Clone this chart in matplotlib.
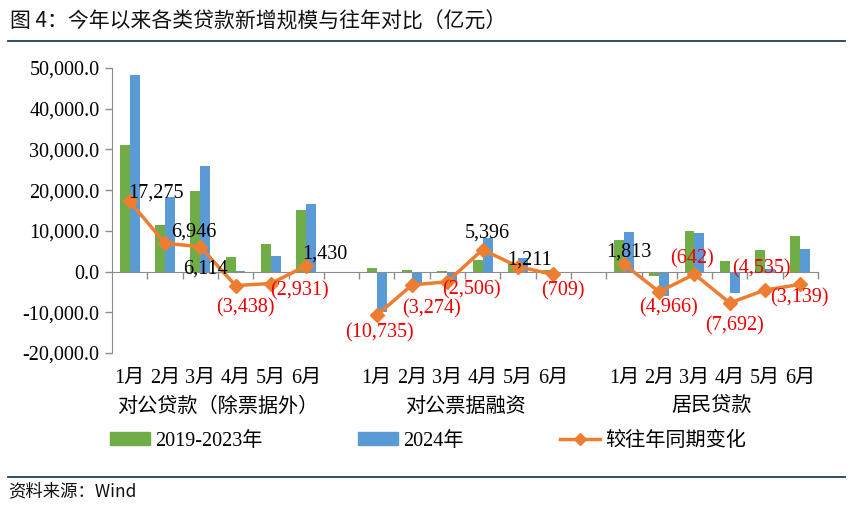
import matplotlib
matplotlib.use("Agg")
import matplotlib.pyplot as plt
from matplotlib import transforms
from matplotlib.patches import Patch
from matplotlib.lines import Line2D

plt.rcParams['font.family'] = ['Liberation Serif', 'Noto Sans CJK SC']

months = ['1月', '2月', '3月', '4月', '5月', '6月']
groups = ['对公贷款（除票据外）', '对公票据融资', '居民贷款']

# 2019-2023年 (avg), 2024年, and change vs. previous years, by group then month
avg_1923 = [31000, 11354, 19750, 3500, 6650, 15150,
            900, 400, 50, 2850, 2100, 500,
            7870, -1100, 10000, 2500, 5200, 8700]
y2024 = [48275, 18300, 25864, 62, 3719, 16580,
         -9835, -2874, -2456, 8246, 3311, -209,
         9683, -6066, 9358, -5192, 665, 5561]
change = [17275, 6946, 6114, -3438, -2931, 1430,
          -10735, -3274, -2506, 5396, 1211, -709,
          1813, -4966, -642, -7692, -4535, -3139]

# label offsets from the marker, in pixels
label_dx = [26, 29, 5, 10, 29, 19,
            3, 19, 24, 5, 12, 10,
            5, 9, -2, 5, -4, -1]
label_dy = [8, 11, -22, -22, -7, 12,
            -18, -24, -8, 17, 7, -16,
            12, -16, 15, -23, 21, -14]

GREEN = '#70AD47'
BLUE = '#5B9BD5'
ORANGE = '#ED7D31'
RED = '#F00000'
GREY = '#8C8C8C'
NAVY = '#1F3F5F'
FS = 14.5

W, H = 855, 505
fig = plt.figure(figsize=(W / 100, H / 100), dpi=100)
ax = fig.add_axes([112 / W, 1 - 353 / H, (818 - 112) / W, (353 - 68) / H])

pos = [g * 7 + m for g in range(3) for m in range(6)]
bw = 0.28
ax.bar([p - bw / 2 for p in pos], avg_1923, width=bw, color=GREEN, zorder=2)
ax.bar([p + bw / 2 for p in pos], y2024, width=bw, color=BLUE, zorder=2)

for g in range(3):
    xs = pos[g * 6:(g + 1) * 6]
    ys = change[g * 6:(g + 1) * 6]
    ax.plot(xs, ys, color=ORANGE, lw=2.5, marker='D', ms=7, zorder=3)

for p, v, dx, dy in zip(pos, change, label_dx, label_dy):
    txt = f'{v:,}' if v >= 0 else f'({-v:,})'
    ax.annotate(txt, (p, v), xytext=(dx, dy), textcoords='offset pixels',
                ha='center', va='center', fontsize=FS,
                color='black' if v >= 0 else RED, zorder=4)

ax.set_xlim(-0.5, 19.5)
ax.set_ylim(-20000, 50000)
yt = list(range(-20000, 50001, 10000))
ax.set_yticks(yt)
ax.set_yticklabels([f'{t:,.1f}' for t in yt], fontsize=FS)
ax.set_xticks([i + 0.5 for i in range(20)])
ax.set_xticklabels([])

for s in ['top', 'right']:
    ax.spines[s].set_visible(False)
ax.spines['bottom'].set_position(('data', 0))
ax.spines['bottom'].set_color(GREY)
ax.spines['left'].set_color(GREY)
ax.tick_params(axis='both', direction='out', length=5, color=GREY, width=1)
ax.tick_params(axis='y', pad=4)

trans = transforms.blended_transform_factory(ax.transData, fig.transFigure)
for p, m in zip(pos, months * 3):
    fig.text(p, 1 - 378 / H, m, transform=trans, ha='center', va='center',
             fontsize=FS)
for g, name in enumerate(groups):
    fig.text(g * 7 + 2.5, 1 - 407 / H, name, transform=trans, ha='center',
             va='center', fontsize=FS)

# legend, three separate entries
leg_y = 1 - 441 / H
entries = [
    (110, Patch(color=GREEN), '2019-2023年'),
    (358, Patch(color=BLUE), '2024年'),
    (560, Line2D([], [], color=ORANGE, lw=2.5, marker='D', ms=6), '较往年同期变化'),
]
for x0, h, lab in entries:
    fig.legend([h], [lab], loc='center left', bbox_to_anchor=(x0 / W, leg_y),
               frameon=False, fontsize=FS, borderpad=0, borderaxespad=0,
               handlelength=2.0, handleheight=0.65, handletextpad=0.25)

# title, rules and source
fig.text(10 / W, 1 - 22 / H, '图 4：今年以来各类贷款新增规模与往年对比（亿元）',
         fontsize=15, family='Noto Sans CJK SC', va='center', color='#111111')
fig.add_artist(Line2D([8 / W, 845 / W], [1 - 41 / H] * 2, transform=fig.transFigure,
                      color=NAVY, lw=1.3))
fig.add_artist(Line2D([8 / W, 845 / W], [1 - 477 / H] * 2, transform=fig.transFigure,
                      color=NAVY, lw=1.3))
fig.text(8 / W, 1 - 491 / H, '资料来源：Wind', fontsize=12.5,
         family='Noto Sans CJK SC', va='center', color='#111111')

fig.savefig('out.png', dpi=100)
